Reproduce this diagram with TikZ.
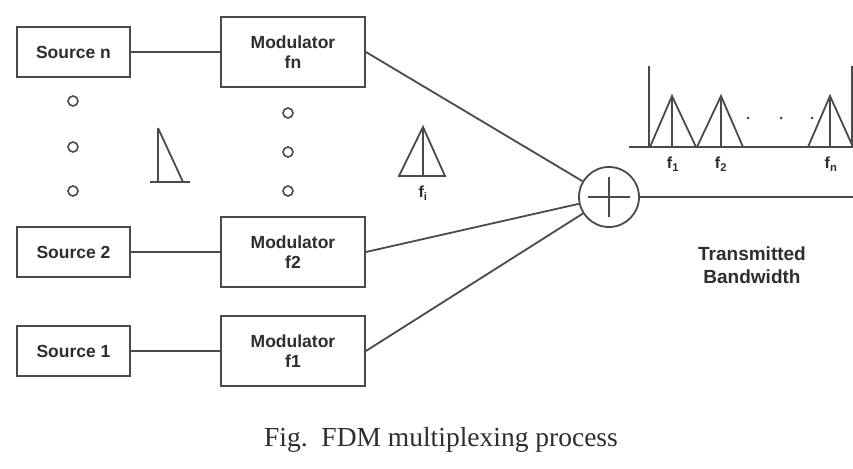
\documentclass[tikz,border=0pt]{standalone}
\usepackage{fontspec}
\setmainfont{Liberation Serif}
\setsansfont{Liberation Sans}
\definecolor{ln}{HTML}{4A4A4A}
\definecolor{tx}{HTML}{2E2E2E}
\begin{document}
\begin{tikzpicture}[x=1pt,y=-1pt,
  lbl/.style={text=tx, font=\fontsize{17.5}{20}\selectfont\sffamily\bfseries, align=center, inner sep=0pt},
  srcbox/.style={lbl, draw=ln, line width=1.8pt, minimum width=113pt, minimum height=50pt},
  modbox/.style={lbl, draw=ln, line width=1.8pt, minimum width=144pt, minimum height=70pt},
  wire/.style={draw=ln, line width=1.8pt},
  dotc/.style={circle, draw=ln, line width=1.6pt, fill=white, minimum size=10pt, inner sep=0pt},
  flbl/.style={text=tx, font=\fontsize{16}{18}\selectfont\sffamily\bfseries, inner sep=0pt},
  sdot/.style={circle, fill=ln, minimum size=3pt, inner sep=0pt}]
\useasboundingbox (0,0) rectangle (853,468);
\fill[white] (0,0) rectangle (853,468);

% boxes
\node[srcbox] (sn) at (73.5,52) {Source n};
\node[modbox] (mn) at (293,52) {Modulator\\fn};
\node[srcbox] (s2) at (73.5,252) {Source 2};
\node[modbox] (m2) at (293,252) {Modulator\\f2};
\node[srcbox] (s1) at (73.5,351) {Source 1};
\node[modbox] (m1) at (293,351) {Modulator\\f1};

% summer
\node[circle, draw=ln, line width=1.8pt, minimum size=60pt, inner sep=0pt] (sum) at (609,197) {};
\draw[wire] ([xshift=-21pt]sum.center) -- ([xshift=21pt]sum.center);
\draw[wire] ([yshift=-20pt]sum.center) -- ([yshift=20pt]sum.center);

% connectors
\draw[wire] (sn) -- (mn);
\draw[wire] (s2) -- (m2);
\draw[wire] (s1) -- (m1);
\draw[wire] (mn.east) -- (sum);
\draw[wire] (m2.east) -- (sum);
\draw[wire] (m1.east) -- (sum);
\coordinate (outend) at (853,197);
\draw[wire] (sum.east) -- (outend);

% dots
\node[dotc] (d1) at (73,101) {};
\node[dotc] (d2) at (73,147) {};
\node[dotc] (d3) at (73,191) {};
\node[dotc] (e1) at (288,113) {};
\node[dotc] (e2) at (288,152) {};
\node[dotc] (e3) at (288,191) {};

% right-triangle sketch
\draw[wire] (158,128) -- (158,182);
\draw[wire] (150,182) -- (190,182);
\draw[wire] (158,128) -- (183,182);

% f_i triangle
\draw[wire, line join=miter] (399,176) -- (423,127) -- (445,176) -- cycle;
\draw[wire] (423,127) -- (423,176);
\node[flbl] (fi) at (423,193) {f\textsubscript{i}};

% spectrum
\draw[wire] (649,66) -- (649,147);
\draw[wire] (852,66) -- (852,147);
\draw[wire] (629,147) -- (853,147);
\foreach \a/\b/\c in {650/672/696, 697/721/743, 808/830/853}{
  \draw[wire, line join=miter] (\a,147) -- (\b,96) -- (\c,147);
  \draw[wire] (\b,96) -- (\b,147);
}
\node[sdot] (p1) at (748,118) {};
\node[sdot] (p2) at (781,118) {};
\node[sdot] (p3) at (812,118) {};
\node[flbl] (f1) at (673,164) {f\textsubscript{1}};
\node[flbl] (f2) at (721,164) {f\textsubscript{2}};
\node[flbl] (fn) at (831,164) {f\textsubscript{n}};

\node[lbl, font=\fontsize{19}{23}\selectfont\sffamily\bfseries] (tb) at (752,265) {Transmitted\\Bandwidth};

\node[text=tx, font=\fontsize{27.5}{30}\selectfont, inner sep=0pt] (cap) at (441,440) {Fig.\ \ FDM multiplexing process};
\end{tikzpicture}
\end{document}
